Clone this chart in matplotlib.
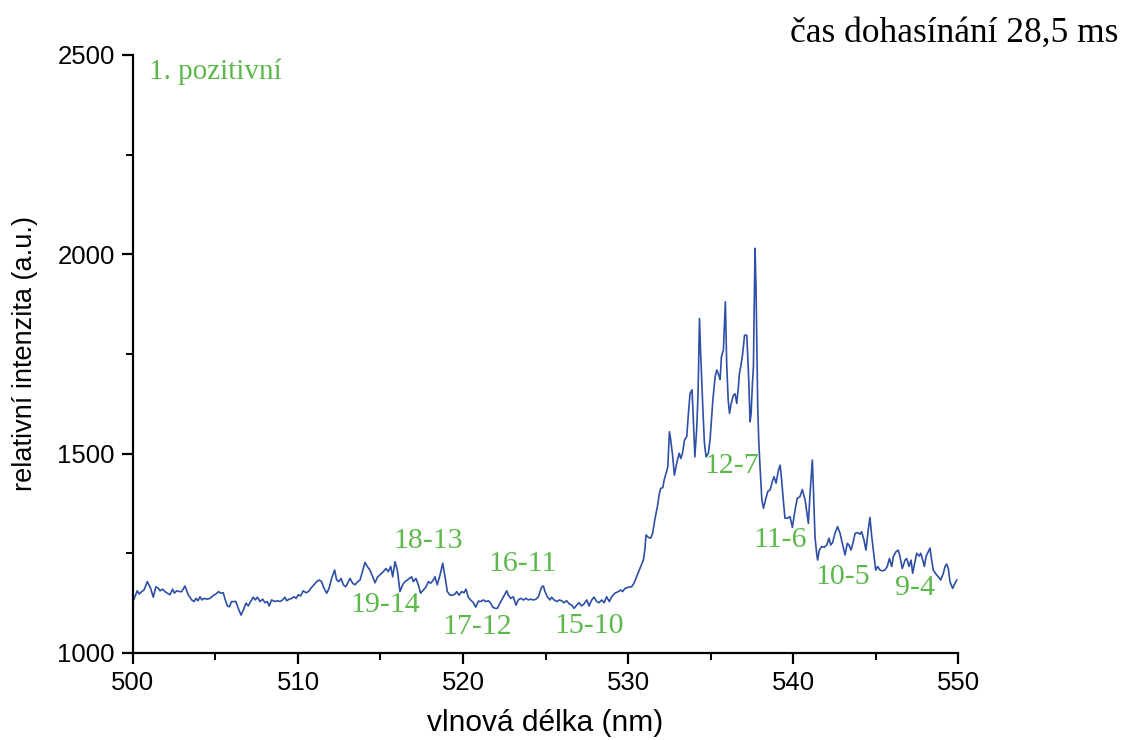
import numpy as np
import matplotlib
matplotlib.use("Agg")
import matplotlib.pyplot as plt
from matplotlib.ticker import MultipleLocator

# =========================
# DATA
# =========================
wavelength = [
    500.06, 500.26, 500.38, 500.53, 500.67, 500.87, 501.07, 501.23, 501.39, 501.54,
    501.64, 501.80, 501.94, 502.08, 502.24, 502.40, 502.51, 502.65, 502.79, 502.95,
    503.15, 503.35, 503.56, 503.70, 503.82, 503.94, 504.06, 504.18, 504.30, 504.51,
    504.67, 504.83, 505.03, 505.19, 505.31, 505.47, 505.58, 505.72, 505.84, 505.98,
    506.24, 506.38, 506.55, 506.69, 506.85, 506.99, 507.13, 507.29, 507.41, 507.54,
    507.70, 507.86, 508.00, 508.14, 508.26, 508.40, 508.61, 508.75, 508.91, 509.07,
    509.21, 509.31, 509.47, 509.62, 509.76, 509.88, 510.02, 510.16, 510.32, 510.48,
    510.63, 510.83, 510.97, 511.13, 511.29, 511.43, 511.58, 511.74, 511.88, 512.04,
    512.22, 512.34, 512.48, 512.61, 512.75, 512.89, 513.01, 513.15, 513.31, 513.45,
    513.62, 513.76, 513.90, 514.06, 514.20, 514.36, 514.53, 514.67, 514.81, 514.97,
    515.17, 515.33, 515.47, 515.62, 515.74, 515.88, 516.02, 516.18, 516.34, 516.49,
    516.63, 516.75, 516.89, 516.99, 517.15, 517.29, 517.43, 517.60, 517.76, 517.90,
    518.04, 518.20, 518.30, 518.44, 518.61, 518.77, 518.91, 519.05, 519.21, 519.37,
    519.52, 519.62, 519.76, 519.92, 520.06, 520.18, 520.32, 520.46, 520.63, 520.77,
    520.93, 521.07, 521.23, 521.39, 521.54, 521.68, 521.80, 521.94, 522.08, 522.24,
    522.40, 522.55, 522.65, 522.75, 522.89, 523.05, 523.21, 523.35, 523.50, 523.66,
    523.82, 523.96, 524.10, 524.26, 524.42, 524.57, 524.67, 524.77, 524.87, 524.97,
    525.11, 525.27, 525.37, 525.52, 525.68, 525.84, 525.98, 526.12, 526.28, 526.44,
    526.59, 526.73, 526.89, 527.03, 527.19, 527.33, 527.50, 527.64, 527.80, 527.94,
    528.10, 528.24, 528.40, 528.55, 528.70, 528.87, 529.01, 529.21, 529.41, 529.55,
    529.67, 529.82, 530.02, 530.22, 530.36, 530.52, 530.72, 530.93, 531.03, 531.09,
    531.23, 531.37, 531.49,
    531.64, 531.78, 531.90, 531.98, 532.11, 532.19, 532.31, 532.41, 532.51, 532.59,
    532.71, 532.81, 532.95, 533.10, 533.20, 533.30, 533.42, 533.56, 533.66, 533.76,
    533.88, 533.96, 534.05, 534.17, 534.25, 534.33, 534.41, 534.53, 534.63, 534.73,
    534.87, 534.97, 535.14, 535.28, 535.38, 535.50, 535.58, 535.66, 535.78, 535.90,
    535.98, 536.07, 536.15, 536.25, 536.39, 536.49, 536.59, 536.69, 536.75, 536.83,
    536.95, 537.06, 537.20, 537.30, 537.40, 537.46, 537.54, 537.60, 537.66, 537.70,
    537.76, 537.80, 537.86, 537.92, 538.00, 538.11, 538.21, 538.33, 538.47, 538.61,
    538.77, 538.85, 538.97, 539.12, 539.22,
    539.31, 539.41, 539.51, 539.65, 539.82, 539.96, 540.06, 540.16, 540.26, 540.42,
    540.56, 540.73, 540.87, 540.93, 541.03, 541.17, 541.23, 541.33, 541.43, 541.49,
    541.59, 541.74, 541.88, 542.04, 542.18, 542.28, 542.40, 542.54, 542.70, 542.85,
    543.01, 543.15, 543.29, 543.39, 543.51, 543.65, 543.76, 543.90, 544.06, 544.16,
    544.30, 544.42, 544.56, 544.66, 544.77, 544.91, 545.01, 545.13, 545.27, 545.41,
    545.57, 545.71, 545.84, 545.98, 546.08, 546.24, 546.38, 546.48, 546.62, 546.79,
    546.89, 547.03, 547.15, 547.25, 547.39, 547.49, 547.65, 547.74, 547.86, 547.96,
    548.06, 548.20, 548.30, 548.40, 548.50, 548.66, 548.81, 548.95, 549.11, 549.21,
    549.31, 549.41, 549.51, 549.67, 549.77, 549.92,
]

intensity = [
    1135, 1156, 1148, 1154, 1158, 1179, 1162, 1140, 1166, 1162,
    1156, 1160, 1154, 1150, 1146, 1160, 1150, 1156, 1154, 1154,
    1168, 1146, 1133, 1129, 1137, 1131, 1141, 1133, 1137, 1135,
    1137, 1143, 1148, 1154, 1150, 1151, 1135, 1118, 1116, 1129,
    1129, 1112, 1095, 1108, 1125, 1118, 1129, 1140, 1133, 1140,
    1129, 1135, 1126, 1129, 1118, 1133, 1129, 1131, 1129, 1133,
    1140, 1131, 1135, 1137, 1141, 1137, 1146, 1143, 1156, 1151,
    1154, 1165, 1171, 1179, 1183, 1179, 1162, 1150, 1162, 1187,
    1208, 1183, 1179, 1187, 1171, 1166, 1175, 1187, 1175, 1171,
    1179, 1183, 1204, 1227, 1217, 1208, 1191, 1176, 1190, 1196,
    1204, 1212, 1204, 1217, 1191, 1229, 1208, 1154, 1171, 1179,
    1183, 1187, 1191, 1179, 1187, 1171, 1150, 1158, 1166, 1179,
    1175, 1183, 1191, 1171, 1196, 1225, 1191, 1154, 1145, 1145,
    1148, 1154, 1145, 1154, 1151, 1160, 1140, 1133, 1126, 1115,
    1130, 1129, 1133, 1129, 1131, 1125, 1115, 1112, 1112, 1125,
    1137, 1148, 1156, 1145, 1137, 1141, 1120, 1133, 1137, 1133,
    1137, 1133, 1135, 1133, 1135, 1141, 1154, 1166, 1168, 1154,
    1141, 1133, 1140, 1133, 1129, 1133, 1131, 1126, 1131, 1123,
    1120, 1112, 1120, 1126, 1118, 1123, 1133, 1118, 1133, 1140,
    1129, 1126, 1133, 1126, 1141, 1129, 1141, 1150, 1154, 1158,
    1154, 1162, 1165, 1166, 1175, 1191, 1212, 1233, 1263, 1296,
    1290, 1288, 1300,
    1338, 1367, 1400, 1413, 1415, 1434, 1451, 1467, 1555, 1534,
    1492, 1446, 1476, 1501, 1488, 1501, 1534, 1543, 1601, 1651,
    1660, 1584, 1492, 1568, 1660, 1839, 1743, 1618, 1526, 1492,
    1501, 1534, 1634, 1693, 1710, 1697, 1686, 1743, 1760, 1881,
    1726, 1634, 1601, 1626, 1647, 1650, 1626, 1668, 1701, 1718,
    1751, 1797, 1797, 1701, 1580, 1601, 1676, 1718, 1910, 2015,
    1910, 1785, 1618, 1534, 1467, 1384, 1363, 1384, 1405, 1409,
    1434, 1442, 1426, 1459, 1471,
    1434, 1384, 1338, 1338, 1342, 1315, 1342, 1367, 1388, 1392,
    1410, 1384, 1342, 1325, 1400, 1484, 1417, 1292, 1250, 1233,
    1258, 1267, 1265, 1271, 1288, 1271, 1277, 1300, 1317, 1300,
    1271, 1246, 1275, 1271, 1258, 1279, 1300, 1302, 1298, 1304,
    1283, 1258, 1309, 1340, 1292, 1242, 1208, 1217, 1208, 1206,
    1208, 1217, 1237, 1217, 1242, 1254, 1258, 1242, 1212, 1233,
    1237, 1217, 1233, 1200, 1229, 1250, 1243, 1250, 1233, 1217,
    1242, 1254, 1263, 1233, 1208, 1198, 1191, 1183, 1200, 1217,
    1223, 1212, 1179, 1162, 1171, 1183,
]

# band labels of the 1st positive system
band_labels = ["18-13", "19-14", "16-11", "17-12", "15-10", "12-7", "11-6", "10-5", "9-4"]
band_x = [517.9, 515.3, 523.6, 520.85, 527.65, 536.3, 539.2, 543.0, 547.4]
band_y = [1281, 1120, 1223, 1065, 1068, 1469, 1283, 1191, 1163]

# =========================
# PLOT
# =========================
green = "#5cb84a"
fig = plt.figure(figsize=(11.25, 7.4), dpi=100)
ax = fig.add_axes([0.1182, 0.1176, 0.7334, 0.8081])

ax.plot(wavelength, intensity, color="#2e4fa6", lw=1.2)

ax.set_xlim(500, 550)
ax.set_ylim(1000, 2500)
ax.xaxis.set_major_locator(MultipleLocator(10))
ax.xaxis.set_minor_locator(MultipleLocator(5))
ax.yaxis.set_major_locator(MultipleLocator(500))
ax.yaxis.set_minor_locator(MultipleLocator(250))

for s in ["top", "right"]:
    ax.spines[s].set_visible(False)
for s in ["left", "bottom"]:
    ax.spines[s].set_linewidth(1.6)
ax.tick_params(which="major", direction="out", length=8, width=1.6,
               labelsize=18.5, pad=5)
ax.tick_params(which="minor", direction="out", length=5, width=1.4)
for lab in ax.get_xticklabels() + ax.get_yticklabels():
    lab.set_fontfamily("Liberation Sans")

ax.set_xlabel("vlnová délka (nm)", fontsize=21.5, family="Liberation Sans", labelpad=10)
ax.set_ylabel("relativní intenzita (a.u.)", fontsize=19.5, family="Liberation Sans", labelpad=14)

for lbl, bx, by in zip(band_labels, band_x, band_y):
    ax.text(bx, by, lbl, color=green, fontsize=21.5, family="Liberation Serif",
            ha="center", va="center")

ax.text(501.0, 2457, "1. pozitivní", color=green, fontsize=21,
        family="Liberation Serif", ha="left", va="center")

fig.text(0.994, 0.955, "čas dohasínání 28,5 ms", fontsize=25.5,
         family="Liberation Serif", ha="right", va="center")

fig.savefig("out.png", dpi=100)
